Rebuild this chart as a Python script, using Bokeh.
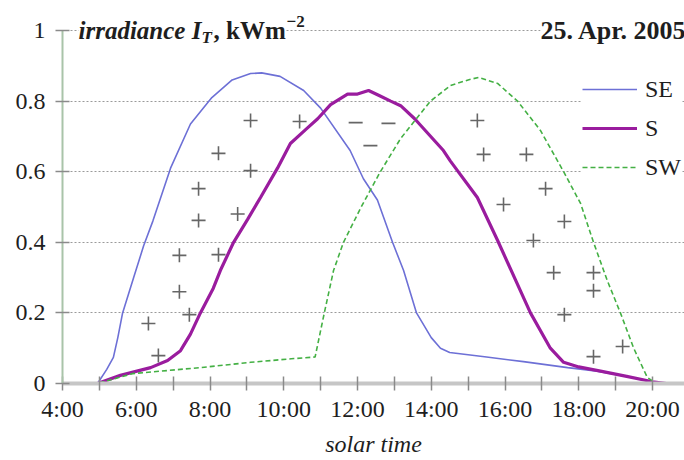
from bokeh.plotting import figure
from bokeh.models import Range1d, FixedTicker, Legend, LegendItem, Label
from bokeh.embed import file_html
from bokeh.resources import INLINE

# ---------------- data (hours of solar time, irradiance kW/m2) ----------------
se_hours = [4.35, 4.95, 5.2, 5.38, 5.5, 5.63, 5.93, 6.2, 6.45, 6.93, 7.47, 8.05, 8.6, 9.1,
            9.4, 9.9, 10.54, 11.0, 11.8, 12.16, 12.54, 12.95, 13.25, 13.6, 14.0, 14.25,
            14.5, 15.5, 16.5, 17.7, 18.5, 19.3, 20.0, 20.3]
se_vals = [0, 0, 0.04, 0.074, 0.13, 0.2, 0.30, 0.39, 0.46, 0.61, 0.735, 0.81, 0.86, 0.878,
           0.88, 0.87, 0.83, 0.78, 0.66, 0.58, 0.52, 0.40, 0.32, 0.2, 0.13, 0.1,
           0.088, 0.075, 0.062, 0.045, 0.035, 0.02, 0.005, 0]

s_hours = [4.35, 4.95, 5.57, 6.39, 6.85, 7.2, 7.47, 7.74, 8.09, 8.28, 8.64, 9.02, 9.37,
           9.83, 10.18, 10.6, 10.92, 11.27, 11.73, 12.0, 12.3, 12.6, 12.9, 13.17, 13.55,
           14.33, 14.52, 15.25, 15.8, 16.69, 17.23, 17.59, 18.0, 18.59, 19.3, 20.0, 20.38]
s_vals = [0, 0, 0.023, 0.045, 0.065, 0.093, 0.14, 0.2, 0.27, 0.32, 0.40, 0.465, 0.527,
          0.61, 0.68, 0.72, 0.75, 0.79, 0.82, 0.82, 0.83, 0.815, 0.80, 0.787, 0.75,
          0.66, 0.63, 0.527, 0.405, 0.2, 0.10, 0.06, 0.047, 0.035, 0.02, 0.005, 0]

sw_hours = [4.35, 4.95, 5.9, 7.74, 9.1, 10.2, 10.85, 11.1, 11.35, 11.62, 12.1, 12.62, 13.17,
            13.98, 14.52, 15.0, 15.28, 15.8, 16.34, 16.96, 17.59, 18.05, 18.4, 18.78,
            19.13, 19.49, 19.86, 20.1]
sw_vals = [0, 0, 0.028, 0.045, 0.06, 0.07, 0.075, 0.2, 0.32, 0.4, 0.5, 0.6, 0.694,
           0.80, 0.844, 0.86, 0.867, 0.85, 0.80, 0.717, 0.60, 0.51, 0.40, 0.29,
           0.2, 0.10, 0.017, 0]

plus_hours = [6.60, 6.33, 7.17, 7.44, 7.17, 8.23, 7.69, 7.69, 8.75, 8.23, 9.10, 9.10, 10.43,
              15.25, 15.42, 16.58, 17.10, 15.96, 17.61, 16.77, 17.32, 18.40, 18.40, 17.61,
              19.19, 18.40]
plus_vals = [0.079, 0.17, 0.26, 0.195, 0.363, 0.365, 0.462, 0.552, 0.48, 0.652, 0.603, 0.745,
             0.742, 0.745, 0.649, 0.649, 0.552, 0.507, 0.459, 0.405, 0.314, 0.314, 0.263,
             0.195, 0.105, 0.076]

minus_hours = [11.95, 12.84, 12.35]
minus_vals = [0.739, 0.737, 0.674]

x_ticks = [4, 6, 8, 10, 12, 14, 16, 18, 20]
x_tick_labels = ["4:00", "6:00", "8:00", "10:00", "12:00", "14:00", "16:00", "18:00", "20:00"]
x_minor_ticks = [5, 7, 9, 11, 13, 15, 17, 19]
y_ticks = [0, 0.2, 0.4, 0.6, 0.8, 1.0]
y_tick_labels = ["0", "0.2", "0.4", "0.6", "0.8", "1"]
series_names = ["SE", "S", "SW"]

FONT = "Liberation Serif"
TXT = "#1e1e1e"

p = figure(width=684, height=460, output_backend="svg", toolbar_location=None,
           x_range=Range1d(4, 4 + 622 / 36.875), y_range=Range1d(0, 371 / 353),
           min_border_left=62, min_border_right=0, min_border_top=12, min_border_bottom=77)
p.outline_line_color = None
p.background_fill_color = "white"
p.border_fill_color = "white"

# x axis
xa = p.xaxis[0]
xa.ticker = FixedTicker(ticks=x_ticks, minor_ticks=x_minor_ticks)
xa.major_label_overrides = dict(zip(x_ticks, x_tick_labels))
xa.axis_line_color = "#c6c6c6"
xa.axis_line_width = 4
xa.major_tick_line_color = "#8a8a8a"
xa.major_tick_line_width = 1.5
xa.major_tick_in = 7
xa.major_tick_out = 7
xa.minor_tick_line_color = "#8a8a8a"
xa.minor_tick_line_width = 1.5
xa.minor_tick_in = 7
xa.minor_tick_out = 7
xa.major_label_text_font = FONT
xa.major_label_text_font_size = "24px"
xa.major_label_text_color = TXT
xa.major_label_standoff = 5
xa.axis_label = "solar time"
xa.axis_label_text_font = FONT
xa.axis_label_text_font_style = "italic"
xa.axis_label_text_font_size = "24px"
xa.axis_label_text_color = TXT
xa.axis_label_standoff = 6

# y axis
ya = p.yaxis[0]
ya.ticker = FixedTicker(ticks=y_ticks)
ya.major_label_overrides = dict(zip(y_ticks, y_tick_labels))
ya.bounds = (0, 1)
ya.axis_line_color = "#a9c4a9"
ya.axis_line_width = 2
ya.major_tick_line_color = "#8a8a8a"
ya.major_tick_line_width = 1.5
ya.major_tick_in = 7
ya.major_tick_out = 7
ya.minor_tick_line_color = None
ya.major_label_text_font = FONT
ya.major_label_text_font_size = "24px"
ya.major_label_text_color = TXT
ya.major_label_standoff = 10

p.xgrid.visible = False
p.ygrid.grid_line_color = "#9a9a9a"
p.ygrid.grid_line_dash = "2 2"
p.ygrid.grid_line_width = 1.2

# series
r_se = p.line(se_hours, se_vals, line_color="#6d70d6", line_width=1.6)
r_s = p.line(s_hours, s_vals, line_color="#9a1c9e", line_width=3.2)
r_sw = p.line(sw_hours, sw_vals, line_color="#44b044", line_width=1.6, line_dash="5 3")

p.scatter(plus_hours, plus_vals, marker="cross", size=14, line_color="#666666", line_width=1.6)
p.scatter(minus_hours, minus_vals, marker="dash", size=14, line_color="#666666", line_width=1.6)

legend = Legend(items=[LegendItem(label=series_names[0], renderers=[r_se]),
                       LegendItem(label=series_names[1], renderers=[r_s]),
                       LegendItem(label=series_names[2], renderers=[r_sw])],
                location=(520, 201), orientation="vertical",
                background_fill_color="white", background_fill_alpha=1.0,
                border_line_color=None, padding=2, margin=0, spacing=9,
                glyph_width=55, glyph_height=30, label_height=30, label_standoff=8,
                label_text_font=FONT, label_text_font_size="24px", label_text_color=TXT)
p.add_layout(legend)

# title pieces
def lab(text, xo, yo, size, style):
    return Label(x=4, y=1.0, x_offset=xo, y_offset=yo, text=text,
                 text_font=FONT, text_font_size=size, text_font_style=style,
                 text_color=TXT, text_baseline="middle", text_align="left",
                 background_fill_color="white", background_fill_alpha=1.0)

p.add_layout(lab("irradiance I", 16, 0, "25px", "bold italic"))
p.add_layout(lab("T", 139, -7, "17px", "bold italic"))
p.add_layout(lab(", kWm", 151, 0, "25px", "bold"))
p.add_layout(lab("\u22122", 224, 9, "17px", "bold"))
p.add_layout(lab("25. Apr. 2005", 478, 0, "26px", "bold"))

open("out.html", "w").write(file_html(p, INLINE))
